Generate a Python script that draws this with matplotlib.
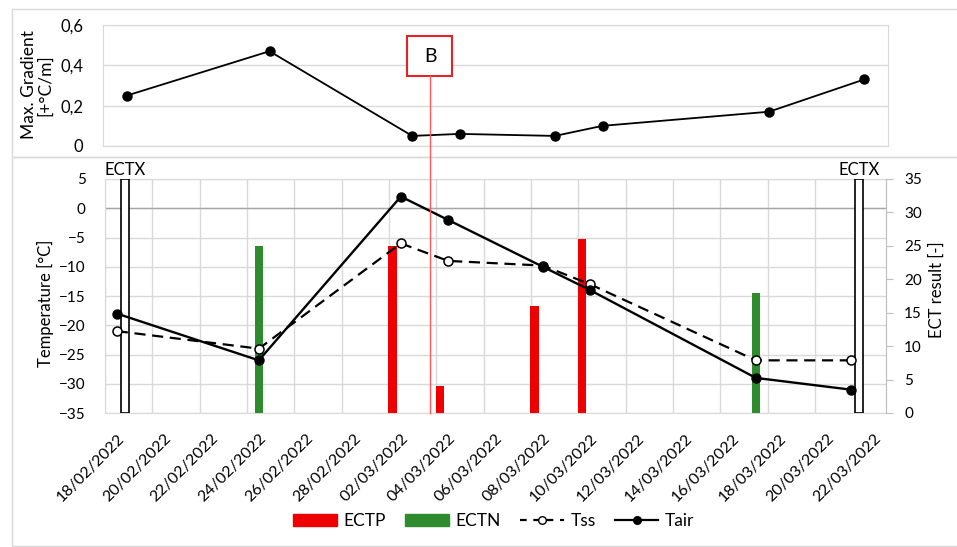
import numpy as np
import pandas as pd
import matplotlib
matplotlib.use("Agg")
import matplotlib.pyplot as plt
from matplotlib.patches import Rectangle, Patch
from matplotlib.lines import Line2D

plt.rcParams['font.family'] = ['Lato', 'DejaVu Sans']

# data
start = "2022-02-18"
tick_dates = pd.date_range("2022-02-18", "2022-03-22", freq="2D")
meas_dates = ["2022-02-18", "2022-02-24", "2022-03-02", "2022-03-04",
              "2022-03-08", "2022-03-10", "2022-03-17", "2022-03-21"]
tair = [-18, -26, 2, -2, -10, -14, -29, -31]
tss = [-21, -24, -6, -9, -9.8, -13, -26, -26]
grad = [0.25, 0.47, 0.05, 0.06, 0.05, 0.10, 0.17, 0.33]

ectp_dates = ["2022-03-02", "2022-03-04", "2022-03-08", "2022-03-10"]
ectp = [25, 4, 16, 26]
ectn_dates = ["2022-02-24", "2022-03-17"]
ectn = [25, 18]
ectx_dates = ["2022-02-18", "2022-03-21"]
ectx = [35, 35]

W, H = 957, 547
GRID = "#d9d9d9"


def days(d):
    return np.array((pd.to_datetime(d) - pd.Timestamp(start)).days, dtype=float)


def rect(l, t, r, b):
    return [l / W, 1 - b / H, (r - l) / W, (b - t) / H]


def fy(y):
    return 1 - y / H


def main():
    fig = plt.figure(figsize=(W / 100, H / 100), dpi=100)

    # panel frames
    fig.patches.append(Rectangle((12 / W, fy(157)), 1, (157 - 9) / H, transform=fig.transFigure,
                                 fill=False, ec=GRID, lw=1))
    fig.patches.append(Rectangle((12 / W, fy(546)), 1, (546 - 157) / H, transform=fig.transFigure,
                                 fill=False, ec=GRID, lw=1))

    x = days(meas_dates)

    # top panel: max gradient
    axt = fig.add_axes(rect(103, 25, 888, 146))
    axt.plot(x, grad, color="k", lw=1.3, marker="o", ms=6.5, zorder=3)
    axt.set_xlim(-1, 32)
    axt.set_ylim(0, 0.6)
    axt.set_yticks([0, 0.2, 0.4, 0.6])
    axt.set_yticklabels(["0", "0,2", "0,4", "0,6"], fontsize=12)
    axt.set_xticks([])
    axt.tick_params(axis="y", length=0, pad=14)
    axt.grid(axis="y", color=GRID, lw=1)
    for s in axt.spines.values():
        s.set_color(GRID)
    fig.text(37 / W, fy(85), "Max. Gradient\n[+°C/m]", rotation=90, ha="center", va="center",
             fontsize=12.5, multialignment="center", linespacing=1.05)

    # bottom panel: grid / temperature axis
    axb = fig.add_axes(rect(105, 179, 886, 413))
    axb.set_xlim(-0.5, 32.5)
    axb.set_ylim(-35, 5)
    axb.set_yticks(np.arange(-35, 6, 5))
    axb.tick_params(axis="y", length=0, labelsize=11, pad=14)
    axb.set_xticks(days(tick_dates))
    axb.set_xticklabels([d.strftime("%d/%m/%Y") for d in tick_dates], rotation=45,
                        ha="right", va="top", rotation_mode="anchor", fontsize=11.5)
    axb.tick_params(axis="x", length=0, pad=13)
    axb.set_xticks(np.arange(-0.5, 32, 2), minor=True)
    axb.tick_params(axis="x", which="minor", length=0)
    axb.grid(axis="y", color=GRID, lw=1)
    axb.grid(axis="x", which="minor", color=GRID, lw=1)
    axb.axhline(0, color="#a6a6a6", lw=1)
    for s in axb.spines.values():
        s.set_color(GRID)
    fig.text(45 / W, fy(303), "Temperature [°C]", rotation=90, ha="center", va="center", fontsize=12)

    # ECT bars on secondary axis
    axe = axb.twinx()
    bw = 0.35
    axe.bar(days(ectp_dates) - bw, ectp, width=bw, color="#ee0000", zorder=2)
    axe.bar(days(ectn_dates), ectn, width=bw, color="#2e8b2e", zorder=2)
    axe.bar(days(ectx_dates) + bw, ectx, width=bw, color="white", ec="k", lw=1.2, zorder=2)
    for d in days(ectx_dates):
        axe.annotate("ECTX", (d + bw, 35), xytext=(0, 1), textcoords="offset points",
                     ha="center", va="bottom", fontsize=12)
    axe.set_ylim(0, 35)
    axe.set_yticks(np.arange(0, 36, 5))
    axe.tick_params(axis="y", direction="out", length=5, color="#bfbfbf", labelsize=11, pad=8)
    for s in axe.spines.values():
        s.set_visible(False)
    axe.spines["right"].set_visible(True)
    axe.spines["right"].set_color("#bfbfbf")
    fig.text(937 / W, fy(290), "ECT result [-]", rotation=90, ha="center", va="center", fontsize=12)

    # temperature lines on top
    axl = axb.twinx()
    axl.set_ylim(-35, 5)
    axl.set_yticks([])
    for s in axl.spines.values():
        s.set_visible(False)
    axl.plot(x, tss, color="k", lw=1.6, ls=(0, (5, 3)), marker="o", ms=6.5, mfc="white", mec="k", mew=1.1)
    axl.plot(x, tair, color="k", lw=1.7, marker="o", ms=6.5)

    # B marker
    fig.add_artist(Line2D([430 / W, 430 / W], [fy(76), fy(413)], transform=fig.transFigure,
                          color="#ff5a5a", lw=1))
    fig.patches.append(Rectangle((407 / W, fy(76)), 45 / W, 40 / H, transform=fig.transFigure,
                                 fc="white", ec="#e8202a", lw=1.5))
    fig.text(430 / W, fy(57), "B", ha="center", va="center", fontsize=14)

    handles = [Patch(color="#ee0000"), Patch(color="#2e8b2e"),
               Line2D([], [], color="k", lw=1.6, ls=(0, (3, 3)), marker="o", ms=5.5, mfc="white"),
               Line2D([], [], color="k", lw=1.6, marker="o", ms=5.5)]
    fig.legend(handles, ["ECTP", "ECTN", "Tss", "Tair"], loc="center", ncol=4,
               bbox_to_anchor=(494 / W, fy(521)), frameon=False, fontsize=12.5,
               handlelength=2.5, handletextpad=0.4, columnspacing=1.1)

    fig.savefig("out.png", dpi=100)
    plt.close()


if __name__ == "__main__":
    main()
